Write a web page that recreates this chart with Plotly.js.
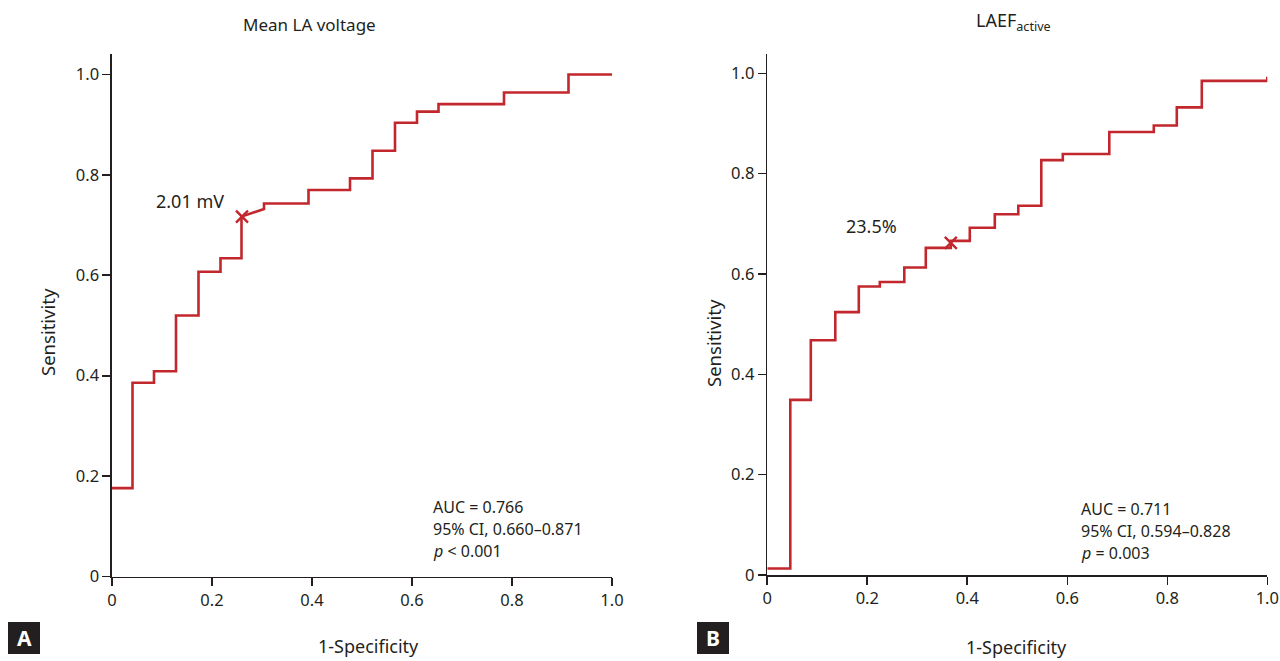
<!DOCTYPE html>
<html>
<head>
<meta charset="utf-8">
<script src="https://cdn.plot.ly/plotly-3.0.1.min.js"></script>
<style>html,body{margin:0;padding:0;background:#fff;}#chart{width:1280px;height:661px;}</style>
</head>
<body>
<div id="chart"></div>
<script>
// Panel A: Mean LA voltage ROC curve
const voltageFPR = [0, 0.041, 0.041, 0.084, 0.084, 0.128, 0.128, 0.173, 0.173, 0.217, 0.217, 0.259, 0.259, 0.304, 0.304, 0.393, 0.393, 0.476, 0.476, 0.521, 0.521, 0.566, 0.566, 0.610, 0.610, 0.653, 0.653, 0.784, 0.784, 0.913, 0.913, 1.0];
const voltageTPR = [0.176, 0.176, 0.386, 0.386, 0.409, 0.409, 0.520, 0.520, 0.607, 0.607, 0.634, 0.634, 0.717, 0.732, 0.743, 0.743, 0.770, 0.770, 0.793, 0.793, 0.848, 0.848, 0.904, 0.904, 0.926, 0.926, 0.941, 0.941, 0.964, 0.964, 1.0, 1.0];
const voltageCut = {x: 0.260, y: 0.717, label: "2.01 mV"};
const voltageStats = ["AUC = 0.766", "95% CI, 0.660\u20130.871", "<i>p</i> < 0.001"];

// Panel B: LAEF active ROC curve
const laefFPR = [0, 0.046, 0.046, 0.087, 0.087, 0.136, 0.136, 0.183, 0.183, 0.225, 0.225, 0.274, 0.274, 0.317, 0.317, 0.367, 0.367, 0.405, 0.405, 0.455, 0.455, 0.502, 0.502, 0.548, 0.548, 0.591, 0.591, 0.684, 0.684, 0.773, 0.773, 0.819, 0.819, 0.869, 0.869, 1.0, 1.0];
const laefTPR = [0.013, 0.013, 0.349, 0.349, 0.468, 0.468, 0.524, 0.524, 0.575, 0.575, 0.584, 0.584, 0.613, 0.613, 0.652, 0.652, 0.666, 0.666, 0.692, 0.692, 0.719, 0.719, 0.736, 0.736, 0.827, 0.827, 0.839, 0.839, 0.883, 0.883, 0.896, 0.896, 0.932, 0.932, 0.985, 0.985, 0.993];
const laefCut = {x: 0.367, y: 0.662, label: "23.5%"};
const laefStats = ["AUC = 0.711", "95% CI, 0.594\u20130.828", "<i>p</i> = 0.003"];

const tickVals = [0, 0.2, 0.4, 0.6, 0.8, 1.0];
const tickText = ["0", "0.2", "0.4", "0.6", "0.8", "1.0"];

const W = 1280, H = 661;
const px = v => v / W;
const py = v => 1 - v / H;
const RED = "#c1272d";
const INK = "#231f20";
const FONT = "Noto Sans, Open Sans, sans-serif";

const traces = [
  {x: voltageFPR, y: voltageTPR, xaxis: "x", yaxis: "y", mode: "lines", line: {color: RED, width: 2.6}, cliponaxis: false, hoverinfo: "skip"},
  {x: [voltageCut.x], y: [voltageCut.y], xaxis: "x", yaxis: "y", mode: "markers", marker: {symbol: "x-thin-open", size: 12, line: {color: RED, width: 2.4}, color: RED}, cliponaxis: false},
  {x: laefFPR, y: laefTPR, xaxis: "x2", yaxis: "y2", mode: "lines", line: {color: RED, width: 2.6}, cliponaxis: false, hoverinfo: "skip"},
  {x: [laefCut.x], y: [laefCut.y], xaxis: "x2", yaxis: "y2", mode: "markers", marker: {symbol: "x-thin-open", size: 12, line: {color: RED, width: 2.4}, color: RED}, cliponaxis: false}
];

function xAx(domain) {
  return {domain: domain, range: [0, 1], tickvals: tickVals, ticktext: tickText, showline: true, linecolor: INK, linewidth: 1.6,
    ticks: "outside", ticklen: 8, tickwidth: 1.6, tickcolor: INK, showgrid: false, zeroline: false, fixedrange: true,
    tickfont: {family: FONT, size: 16.5, color: INK}};
}
function yAx(domain, top, anchor) {
  return {domain: domain, range: [0, top], tickvals: tickVals, ticktext: tickText, showline: true, linecolor: INK, linewidth: 1.6,
    ticks: "outside", ticklen: 8, tickwidth: 1.6, tickcolor: INK, showgrid: false, zeroline: false, fixedrange: true, anchor: anchor,
    tickfont: {family: FONT, size: 16.5, color: INK}};
}

const annotations = [];
function txt(x, y, text, size, extra) {
  annotations.push(Object.assign({xref: "paper", yref: "paper", x: px(x), y: py(y), text: text, showarrow: false,
    font: {family: FONT, size: size, color: INK}, xanchor: "center", yanchor: "middle"}, extra || {}));
}
// titles
txt(309, 24, "Mean LA voltage", 17);
txt(1013, 22, "LAEF<sub>active</sub>", 18);
// axis titles
txt(368, 646, "1-Specificity", 18);
txt(1016, 647, "1-Specificity", 18);
txt(47, 332, "Sensitivity", 18.5, {textangle: -90});
txt(713, 343, "Sensitivity", 18.5, {textangle: -90});
// cutoff labels
txt(190, 201, voltageCut.label, 18);
txt(871, 226, laefCut.label, 18);
// stats
voltageStats.forEach((s, i) => txt(431, 507 + i * 22, s, 16, {xanchor: "left"}));
laefStats.forEach((s, i) => txt(1079, 509 + i * 22, s, 16, {xanchor: "left"}));
// panel letters
txt(24, 638, "<b>A</b>", 21, {font: {family: FONT, size: 21, color: "#ffffff"}});
txt(713, 638, "<b>B</b>", 21, {font: {family: FONT, size: 21, color: "#ffffff"}});

const shapes = [
  {type: "rect", xref: "paper", yref: "paper", x0: px(8), x1: px(40), y0: py(654), y1: py(622), fillcolor: INK, line: {width: 0}},
  {type: "rect", xref: "paper", yref: "paper", x0: px(697), x1: px(729), y0: py(654), y1: py(622), fillcolor: INK, line: {width: 0}}
];

const layout = {
  width: W, height: H, margin: {l: 0, r: 0, t: 0, b: 0},
  paper_bgcolor: "#ffffff", plot_bgcolor: "rgba(0,0,0,0)", showlegend: false,
  xaxis: Object.assign(xAx([px(112), px(612)]), {anchor: "y"}),
  yaxis: yAx([py(576.5), py(54)], (576.5 - 54) / 502, "x"),
  xaxis2: Object.assign(xAx([px(767.3), px(1267.3)]), {anchor: "y2"}),
  yaxis2: yAx([py(575), py(54)], (575 - 54) / 501.7, "x2"),
  annotations: annotations, shapes: shapes
};

Plotly.newPlot("chart", traces, layout, {displayModeBar: false, staticPlot: true});
</script>
</body>
</html>
